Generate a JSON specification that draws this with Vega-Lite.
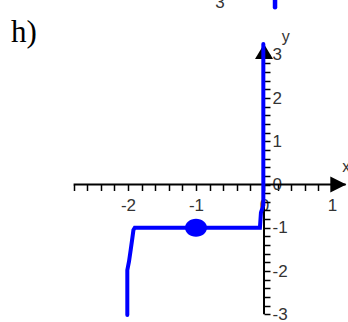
{
  "$schema": "https://vega.github.io/schema/vega-lite/v6.json",
  "width": 348,
  "height": 322,
  "padding": 0,
  "autosize": {"type": "none"},
  "background": "white",
  "config": {"view": {"stroke": null}},
  "encoding": {
    "x": {
      "field": "x", "type": "quantitative",
      "scale": {"domain": [-3.882, 1.235], "nice": false, "zero": false},
      "axis": {
        "orient": "bottom", "offset": -137.5, "domain": false, "grid": false, "title": null,
        "values": [-2.8,-2.6,-2.4,-2.2,-2,-1.8,-1.6,-1.4,-1.2,-1,-0.8,-0.6,-0.4,-0.2,0,0.2,0.4,0.6,0.8,1],
        "tickSize": 6, "tickWidth": 1.5, "tickColor": "#000",
        "labelExpr": "abs(datum.value - round(datum.value)) < 0.001 ? '' + round(datum.value) : ''",
        "labelFont": "Liberation Sans", "labelFontSize": 17, "labelColor": "#333",
        "labelPadding": 7, "labelOverlap": false, "labelFlush": false
      }
    },
    "y": {
      "field": "y", "type": "quantitative",
      "scale": {"domain": [-3.179, 4.266], "nice": false, "zero": false},
      "axis": {
        "orient": "right", "offset": -84, "domain": false, "grid": false, "title": null,
        "values": [-3,-2.8,-2.6,-2.4,-2.2,-2,-1.8,-1.6,-1.4,-1.2,-1,-0.8,-0.6,-0.4,-0.2,0,0.2,0.4,0.6,0.8,1,1.2,1.4,1.6,1.8,2,2.2,2.4,2.6,2.8,3],
        "tickSize": 6, "tickWidth": 1.5, "tickColor": "#000",
        "labelExpr": "abs(datum.value - round(datum.value)) < 0.001 ? '' + round(datum.value) : ''",
        "labelFont": "Liberation Sans", "labelFontSize": 17, "labelColor": "#333",
        "labelPadding": 2, "labelOverlap": false, "labelFlush": false, "labelAlign": "left", "labelBaseline": "middle"
      }
    }
  },
  "layer": [
    {
      "data": {"values": [
        {"x": -2.8, "x2": 1.2, "y": 0, "y2": 0},
        {"x": 0, "x2": 0, "y": -3, "y2": 3.2}
      ]},
      "mark": {"type": "rule", "color": "#000", "strokeWidth": 2},
      "encoding": {"x2": {"field": "x2"}, "y2": {"field": "y2"}}
    },
    {
      "data": {"values": [{"x": 1.093, "y": 0}]},
      "mark": {"type": "point", "shape": "M -1 -1 L 1 0 L -1 1 Z", "filled": true, "color": "#000", "opacity": 1, "size": 256}
    },
    {
      "data": {"values": [{"x": 0, "y": 3.075}]},
      "mark": {"type": "point", "shape": "M -1 0.83 L 0 -0.83 L 1 0.83 Z", "filled": true, "color": "#000", "opacity": 1, "size": 324}
    },
    {
      "data": {"values": [
        {"i": 1, "x": -2.01, "y": -3.02},
        {"i": 2, "x": -2.01, "y": -1.98},
        {"i": 3, "x": -1.985, "y": -1.78},
        {"i": 4, "x": -1.96, "y": -1.51},
        {"i": 5, "x": -1.936, "y": -1.24},
        {"i": 6, "x": -1.92, "y": -1.05},
        {"i": 7, "x": -1.9, "y": -1.0},
        {"i": 8, "x": -0.06, "y": -1.0},
        {"i": 9, "x": -0.045, "y": -0.65},
        {"i": 10, "x": -0.01, "y": -0.48},
        {"i": 11, "x": -0.01, "y": 3.25}
      ]},
      "mark": {"type": "line", "color": "#0000ff", "strokeWidth": 4, "strokeCap": "round", "strokeJoin": "miter"},
      "encoding": {"order": {"field": "i"}}
    },
    {
      "data": {"values": [{"x": -1, "y": -1}]},
      "mark": {"type": "point", "shape": "M -1 0 A 1 0.82 0 1 0 1 0 A 1 0.82 0 1 0 -1 0 Z", "filled": true, "color": "#0000ff", "opacity": 1, "size": 484}
    },
    {
      "data": {"values": [{"x": 0.162, "y": 4.266, "y2": 4.1}]},
      "mark": {"type": "rule", "color": "#0000ff", "strokeWidth": 4.5, "strokeCap": "round"},
      "encoding": {"y2": {"field": "y2"}}
    },
    {
      "data": {"values": [{"x": -0.647, "y": 4.081, "t": "3"}]},
      "mark": {"type": "text", "font": "Liberation Sans", "fontSize": 17, "color": "#333", "align": "center", "baseline": "alphabetic"},
      "encoding": {"text": {"field": "t"}}
    },
    {
      "data": {"values": [{"x": -3.72, "y": 3.295, "t": "h)"}]},
      "mark": {"type": "text", "font": "Liberation Serif", "fontSize": 31, "color": "#000", "align": "left", "baseline": "alphabetic"},
      "encoding": {"text": {"field": "t"}}
    },
    {
      "data": {"values": [{"x": 0.32, "y": 3.41, "t": "y"}, {"x": 1.21, "y": 0.4, "t": "x"}]},
      "mark": {"type": "text", "font": "Liberation Sans", "fontSize": 16, "color": "#333", "align": "center", "baseline": "middle"},
      "encoding": {"text": {"field": "t"}}
    }
  ]
}
